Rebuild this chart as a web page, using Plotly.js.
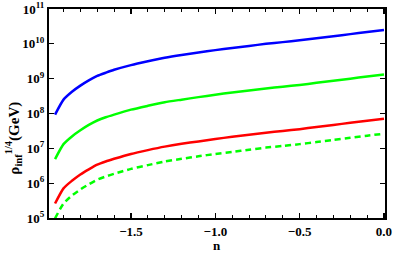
<!DOCTYPE html>
<html><head><meta charset="utf-8">
<script src="https://cdn.plot.ly/plotly-3.0.1.min.js"></script>
<style>html,body{margin:0;padding:0;background:#fff;}#chart{width:393px;height:255px;}</style>
</head><body><div id="chart"></div>
<script>
const nValues = [-1.95,-1.9,-1.85,-1.8,-1.75,-1.7,-1.65,-1.6,-1.5,-1.4,-1.3,-1.2,-1.1,-1.0,-0.9,-0.8,-0.7,-0.6,-0.5,-0.4,-0.3,-0.2,-0.1,0.0];
const blueSeries = [9.3e7,2.5e8,4.2e8,6.3e8,8.9e8,1.2e9,1.48e9,1.8e9,2.45e9,3.16e9,4.0e9,4.8e9,5.6e9,6.6e9,7.6e9,8.7e9,1.0e10,1.12e10,1.26e10,1.45e10,1.66e10,1.9e10,2.19e10,2.5e10];
const greenSeries = [4.9e6,1.32e7,2.2e7,3.3e7,4.7e7,6.3e7,7.8e7,9.3e7,1.29e8,1.66e8,2.1e8,2.5e8,2.95e8,3.47e8,4.0e8,4.6e8,5.25e8,5.9e8,6.6e8,7.6e8,8.7e8,1.0e9,1.15e9,1.32e9];
const redSeries = [2.6e5,7.1e5,1.17e6,1.78e6,2.5e6,3.4e6,4.2e6,5.0e6,6.9e6,8.9e6,1.12e7,1.35e7,1.58e7,1.86e7,2.14e7,2.45e7,2.8e7,3.16e7,3.55e7,4.1e7,4.7e7,5.4e7,6.2e7,7.1e7];
const dashedGreenSeries = [9.8e4,2.6e5,4.4e5,6.6e5,9.3e5,1.26e6,1.55e6,1.86e6,2.57e6,3.3e6,4.2e6,5.0e6,5.9e6,6.9e6,7.9e6,9.1e6,1.05e7,1.17e7,1.32e7,1.51e7,1.74e7,2.0e7,2.3e7,2.63e7];
const xTickVals = [-1.5,-1.0,-0.5,0.0];
const xTickText = ['\u22121.5','\u22121.0','\u22120.5','0.0'];
const yTickVals = [1e5,1e6,1e7,1e8,1e9,1e10,1e11];
const yTickText = ['10<sup>5</sup>','10<sup>6</sup>','10<sup>7</sup>','10<sup>8</sup>','10<sup>9</sup>','10<sup>10</sup>','10<sup>11</sup>'];

const serif = 'Liberation Serif, Times New Roman, serif';
function tr(y, color, dash){
  return {x:nValues, y:y, type:'scatter', mode:'lines',
    line:{color:color, width:2.5, dash:dash||'solid', shape:'spline', smoothing:0.6}, hoverinfo:'skip'};
}
const data = [
  tr(blueSeries,'#0000ff'),
  tr(greenSeries,'#00ff00'),
  tr(redSeries,'#ff0000'),
  tr(dashedGreenSeries,'#00ff00','6px,4px')
];
const layout = {
  width:393, height:255,
  margin:{l:49, r:8, t:9, b:37, pad:0},
  paper_bgcolor:'#fff', plot_bgcolor:'#fff',
  showlegend:false,
  xaxis:{
    range:[-1.986,0.006], showgrid:false, zeroline:false,
    showline:true, linecolor:'#000', linewidth:2, mirror:'ticks',
    ticks:'inside', ticklen:5, tickwidth:1.2, tickcolor:'#000',
    tickvals:xTickVals, ticktext:xTickText,
    tickfont:{family:serif, size:13, color:'#000', weight:'bold'},
    minor:{dtick:0.1, tick0:0, ticks:'inside', ticklen:3, tickwidth:1, tickcolor:'#000', showgrid:false}
  },
  yaxis:{
    type:'log', range:[5,11], showgrid:false, zeroline:false,
    showline:true, linecolor:'#000', linewidth:2, mirror:'ticks',
    ticks:'inside', ticklen:5, tickwidth:1.2, tickcolor:'#000',
    tickvals:yTickVals, ticktext:yTickText,
    tickfont:{family:serif, size:13, color:'#000', weight:'bold'}
  },
  annotations:[
    {text:'\u03c1<sub>inf</sub><sup>1/4</sup>(GeV)', xref:'paper', yref:'paper', x:-0.107, y:0.38,
     xanchor:'center', yanchor:'middle', textangle:-90, showarrow:false,
     font:{family:serif, size:15, color:'#000', weight:'bold'}},
    {text:'n', xref:'paper', yref:'paper', x:0.5, y:-0.13, xanchor:'center', yanchor:'middle', showarrow:false,
     font:{family:serif, size:13, color:'#000', weight:'bold'}}
  ]
};
Plotly.newPlot('chart', data, layout, {displayModeBar:false, staticPlot:true});
</script></body></html>
